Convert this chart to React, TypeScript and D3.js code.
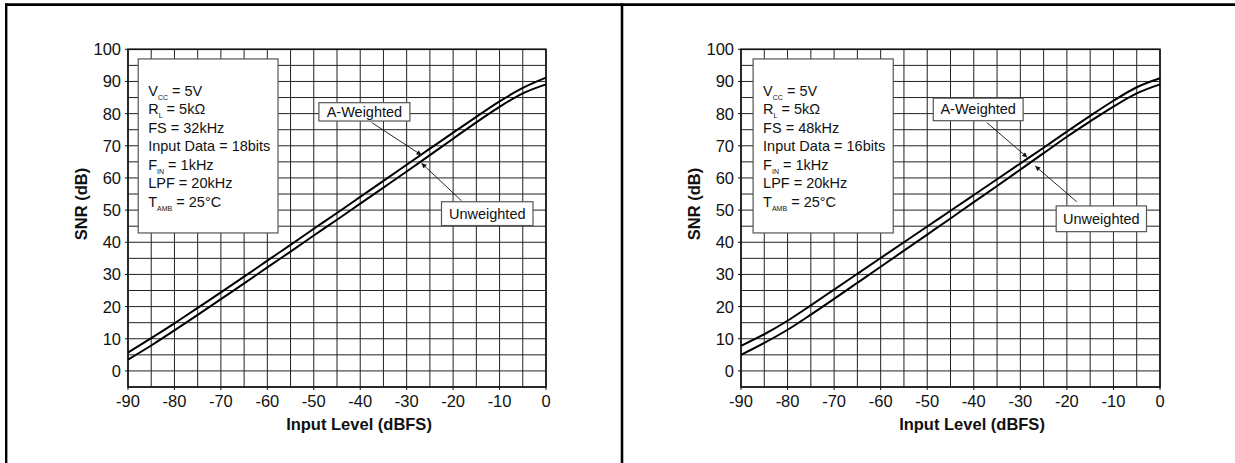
import * as d3 from 'd3';

// input level, dBFS
const INPUT_LEVEL = [-90, -85, -80, -75, -70, -65, -60, -55, -50, -45, -40, -35, -30, -25, -20, -15, -10, -5, 0];

// SNR (dB)
const LEFT_A_WEIGHTED = [5.7, 10.2, 14.8, 19.6, 24.4, 29.3, 34.3, 39.2, 44.2, 49.1, 54.1, 59.1, 64.1, 69.1, 74.1, 79.0, 83.8, 88.0, 91.2];
const LEFT_UNWEIGHTED = [3.5, 7.9, 12.6, 17.4, 22.3, 27.2, 32.2, 37.1, 42.1, 47.0, 52.0, 57.0, 62.0, 67.1, 72.2, 77.3, 82.1, 86.3, 89.1];
const RIGHT_A_WEIGHTED = [7.8, 11.4, 15.6, 20.4, 25.3, 30.2, 35.1, 40.0, 44.9, 49.8, 54.7, 59.6, 64.5, 69.4, 74.4, 79.3, 84.0, 88.2, 91.0];
const RIGHT_UNWEIGHTED = [5.0, 8.7, 12.8, 17.5, 22.4, 27.4, 32.4, 37.4, 42.4, 47.4, 52.5, 57.5, 62.6, 67.7, 72.8, 77.6, 82.2, 86.3, 89.1];

const X_TICKS = [-90, -80, -70, -60, -50, -40, -30, -20, -10, 0];
const Y_TICKS = [0, 10, 20, 30, 40, 50, 60, 70, 80, 90, 100];

const LEFT_CONDITIONS = [
    ['V', 'CC', ' = 5V'],
    ['R', 'L', ' = 5kΩ'],
    ['FS = 32kHz', '', ''],
    ['Input Data = 18bits', '', ''],
    ['F', 'IN', ' = 1kHz'],
    ['LPF = 20kHz', '', ''],
    ['T', 'AMB', ' = 25°C'],
];
const RIGHT_CONDITIONS = [
    ['V', 'CC', ' = 5V'],
    ['R', 'L', ' = 5kΩ'],
    ['FS = 48kHz', '', ''],
    ['Input Data = 16bits', '', ''],
    ['F', 'IN', ' = 1kHz'],
    ['LPF = 20kHz', '', ''],
    ['T', 'AMB', ' = 25°C'],
];

const FONT = "'Liberation Sans', Arial, sans-serif";
const TOP = 49.3;
const BOTTOM = 387;

type Note = { box: [number, number, number, number]; from: [number, number]; to: [number, number] };

type PanelProps = {
    left: number;
    right: number;
    aWeighted: number[];
    unweighted: number[];
    conditions: string[][];
    infoBox: [number, number, number, number];
    aNote: Note;
    uNote: Note;
    id: string;
};

const Panel = ({ left, right, aWeighted, unweighted, conditions, infoBox, aNote, uNote, id }: PanelProps) => {
    const x = d3.scaleLinear().domain([-90, 0]).range([left, right]);
    const y = d3.scaleLinear().domain([-5, 100]).range([BOTTOM, TOP]);
    const line = d3
        .line<number>()
        .x((_d, i) => x(INPUT_LEVEL[i]))
        .y((d) => y(d))
        .curve(d3.curveMonotoneX);

    const gridX = d3.range(-90, 1, 5);
    const gridY = d3.range(-5, 101, 5);

    const noteBox = (n: Note, label: string) => {
        const [x0, y0, x1, y1] = n.box;
        return (
            <g>
                <line
                    x1={x(n.from[0])}
                    y1={y(n.from[1])}
                    x2={x(n.to[0])}
                    y2={y(n.to[1])}
                    stroke="#111"
                    strokeWidth={0.9}
                    markerEnd={`url(#arrow-${id})`}
                />
                <rect x={x(x0)} y={y(y0)} width={x(x1) - x(x0)} height={y(y1) - y(y0)} fill="#fff" stroke="#555" strokeWidth={1.2} />
                <text
                    x={(x(x0) + x(x1)) / 2}
                    y={(y(y0) + y(y1)) / 2 + 5}
                    textAnchor="middle"
                    fontSize={14.5}
                    fontFamily={FONT}
                    fill="#111"
                >
                    {label}
                </text>
            </g>
        );
    };

    const [bx0, by0, bx1, by1] = infoBox;

    return (
        <g>
            <defs>
                <marker id={`arrow-${id}`} viewBox="0 0 10 10" refX={10} refY={5} markerWidth={7} markerHeight={5} orient="auto" markerUnits="userSpaceOnUse">
                    <path d="M0,0 L10,5 L0,10 z" fill="#111" />
                </marker>
            </defs>
            {gridX.map((v) => (
                <line key={`gx${v}`} x1={x(v)} x2={x(v)} y1={TOP} y2={BOTTOM} stroke="#222" strokeWidth={1} />
            ))}
            {gridY.map((v) => (
                <line key={`gy${v}`} x1={left} x2={right} y1={y(v)} y2={y(v)} stroke="#222" strokeWidth={1} />
            ))}
            <rect x={left} y={TOP} width={right - left} height={BOTTOM - TOP} fill="none" stroke="#111" strokeWidth={1.6} />
            {Y_TICKS.map((v) => (
                <line key={`ty${v}`} x1={left - 3} x2={left} y1={y(v)} y2={y(v)} stroke="#111" strokeWidth={1} />
            ))}
            {X_TICKS.map((v) => (
                <line key={`tx${v}`} x1={x(v)} x2={x(v)} y1={BOTTOM} y2={BOTTOM + 3} stroke="#111" strokeWidth={1} />
            ))}

            <path d={line(aWeighted) ?? ''} fill="none" stroke="#000" strokeWidth={2} />
            <path d={line(unweighted) ?? ''} fill="none" stroke="#000" strokeWidth={2} />

            {/* test conditions */}
            <rect x={x(bx0)} y={y(by0)} width={x(bx1) - x(bx0)} height={y(by1) - y(by0)} fill="#fff" stroke="#555" strokeWidth={1.2} />
            {conditions.map(([main, sub, rest], i) => (
                <text key={i} x={x(bx0) + 10} y={y(by0) + 36.7 + i * 18.5} fontSize={14.5} fontFamily={FONT} fill="#111">
                    {main}
                    {sub && (
                        <tspan fontSize={7} dy={4}>
                            {sub}
                        </tspan>
                    )}
                    {sub && <tspan dy={-4}>{rest}</tspan>}
                </text>
            ))}

            {noteBox(aNote, 'A-Weighted')}
            {noteBox(uNote, 'Unweighted')}

            {X_TICKS.map((v) => (
                <text key={`lx${v}`} x={x(v)} y={BOTTOM + 19.5} textAnchor="middle" fontSize={16.5} fontFamily={FONT} fill="#111">
                    {v}
                </text>
            ))}
            {Y_TICKS.map((v) => (
                <text key={`ly${v}`} x={left - 7} y={y(v) + 6} textAnchor="end" fontSize={16.5} fontFamily={FONT} fill="#111">
                    {v}
                </text>
            ))}
            <text x={left + 231} y={430} textAnchor="middle" fontSize={16.5} fontWeight="bold" fontFamily={FONT} fill="#111">
                Input Level (dBFS)
            </text>
            <text
                transform={`translate(${left - 41},204) rotate(-90)`}
                textAnchor="middle"
                fontSize={16.5}
                fontWeight="bold"
                fontFamily={FONT}
                fill="#111"
            >
                SNR (dB)
            </text>
        </g>
    );
};

export default function App() {
    return (
        <svg width={1235} height={463} style={{ position: 'absolute', left: 0, top: 0, background: '#fff' }}>
            <rect width={1235} height={463} fill="#fff" />
            <line x1={5} x2={1235} y1={4.7} y2={4.7} stroke="#000" strokeWidth={2.7} />
            <line x1={6.2} x2={6.2} y1={3.4} y2={463} stroke="#000" strokeWidth={2.4} />
            <line x1={622} x2={622} y1={3.4} y2={463} stroke="#000" strokeWidth={2.6} />
            <Panel
                id="l"
                left={128}
                right={546}
                aWeighted={LEFT_A_WEIGHTED}
                unweighted={LEFT_UNWEIGHTED}
                conditions={LEFT_CONDITIONS}
                infoBox={[-87.8, 97, -57.7, 42.9]}
                aNote={{ box: [-48.9, 83.4, -29.3, 77.7], from: [-37.5, 77.2], to: [-26.8, 67.1] }}
                uNote={{ box: [-22.5, 52.6, -2.8, 45.2], from: [-18.2, 52.9], to: [-26.8, 64.6] }}
            />
            <Panel
                id="r"
                left={741}
                right={1160}
                aWeighted={RIGHT_A_WEIGHTED}
                unweighted={RIGHT_UNWEIGHTED}
                conditions={RIGHT_CONDITIONS}
                infoBox={[-87.4, 97, -57.3, 42.9]}
                aNote={{ box: [-48.7, 84.8, -29.4, 77.8], from: [-37.2, 77.2], to: [-28.5, 66.4] }}
                uNote={{ box: [-22.3, 51.3, -2.9, 43.3], from: [-17.9, 52.6], to: [-26.8, 63.7] }}
            />
        </svg>
    );
}
